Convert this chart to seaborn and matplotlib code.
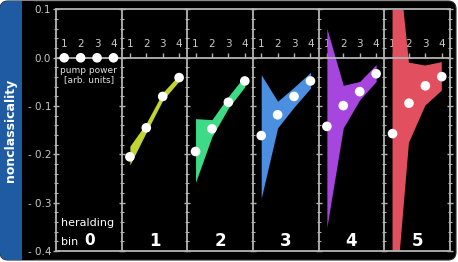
# Nonclassicality vs pump power for each heralding bin
import numpy as np
import pandas as pd
import matplotlib.pyplot as plt
import seaborn as sns
from matplotlib.patches import FancyBboxPatch, Rectangle
from matplotlib.ticker import FixedLocator, FixedFormatter

# pump power settings (x axis of every panel)
pump = [1, 2, 3, 4]
bin_names = ['0', '1', '2', '3', '4', '5']
band_colors = [None, '#c2d432', '#3ddb85', '#4a8fe0', '#a746df', '#e2505f']

# measured nonclassicality per heralding bin
nc_0 = [0.0, 0.0, 0.0, 0.0]
nc_1 = [-0.205, -0.145, -0.080, -0.041]
nc_2 = [-0.194, -0.147, -0.092, -0.048]
nc_3 = [-0.161, -0.118, -0.080, -0.048]
nc_4 = [-0.142, -0.099, -0.070, -0.033]
nc_5 = [-0.157, -0.094, -0.058, -0.039]

# uncertainty band (upper / lower edge)
up_1 = [-0.183, -0.135, -0.072, -0.035]
lo_1 = [-0.222, -0.154, -0.088, -0.048]
up_2 = [-0.126, -0.128, -0.080, -0.037]
lo_2 = [-0.258, -0.163, -0.104, -0.060]
up_3 = [-0.035, -0.090, -0.061, -0.030]
lo_3 = [-0.291, -0.145, -0.102, -0.063]
up_4 = [0.061, -0.057, -0.049, -0.014]
lo_4 = [-0.351, -0.145, -0.087, -0.049]
up_5 = [0.32, -0.010, -0.016, -0.009]
lo_5 = [-0.58, -0.176, -0.099, -0.068]

# y axis ticks
ytick_vals = [-0.4, -0.3, -0.2, -0.1, 0.0, 0.1]
ytick_labels = ['- 0.4', '- 0.3', '- 0.2', '- 0.1', '0.0', '0.1']
yminor_vals = [-0.38, -0.36, -0.34, -0.32, -0.28, -0.26, -0.24, -0.22,
               -0.18, -0.16, -0.14, -0.12, -0.08, -0.06, -0.04, -0.02,
               0.02, 0.04, 0.06, 0.08]

values = [nc_0, nc_1, nc_2, nc_3, nc_4, nc_5]
uppers = [None, up_1, up_2, up_3, up_4, up_5]
lowers = [None, lo_1, lo_2, lo_3, lo_4, lo_5]

gray = '#b4b4b4'
lw = 1.3

sns.set_style('dark')
plt.rcParams['font.family'] = ['DejaVu Sans']

fig, axes = plt.subplots(1, 6, sharey=True, figsize=(4.58, 2.62), dpi=100)
fig.patch.set_facecolor('white')
fig.subplots_adjust(left=56/458, right=450/458, bottom=11/262, top=1-9.5/262, wspace=0)

# black rounded card with blue label strip on the left
tr = fig.dpi_scale_trans
fig.add_artist(FancyBboxPatch((0.0, 0.02), 4.56, 2.59, boxstyle='round,pad=0,rounding_size=0.08',
                              fc='black', ec='#2a2a2a', lw=0.8, transform=tr, zorder=-2))
fig.add_artist(FancyBboxPatch((0.0, 0.02), 0.3, 2.59, boxstyle='round,pad=0,rounding_size=0.08',
                              fc='#1f5ba3', ec='none', transform=tr, zorder=-1.5))
fig.add_artist(Rectangle((0.22, 0.02), 0.12, 2.59, fc='black', ec='none', transform=tr, zorder=-1))
fig.text(11/458, 1-130/262, 'nonclassicality', rotation=90, ha='center', va='center',
         color='white', fontsize=9, fontweight='bold')

for i, ax in enumerate(axes):
    ax.set_facecolor('none')
    ax.grid(False)
    ax.set_xlim(0.5, 4.5)
    ax.set_ylim(-0.4, 0.1)

    if uppers[i] is not None:
        ax.fill_between(pump, lowers[i], uppers[i], color=band_colors[i], lw=0, zorder=2)

    df = pd.DataFrame({'pump': pump, 'nc': values[i]})
    sns.scatterplot(data=df, x='pump', y='nc', ax=ax, color='white', s=48,
                    edgecolor='none', zorder=5, clip_on=False, legend=False)

    # frame: top spine moved to zero acts as the pump power axis
    for s in ['left', 'bottom', 'top', 'right']:
        ax.spines[s].set_color(gray)
        ax.spines[s].set_linewidth(lw)
    ax.spines['top'].set_position(('data', 0))
    ax.spines['right'].set_visible(i == 5)
    ax.axhline(0.1, color=gray, lw=lw, clip_on=False, zorder=3)

    ax.xaxis.set_ticks_position('top')
    ax.set_xticks(pump)
    ax.set_xticklabels([str(p) for p in pump])
    ax.tick_params(axis='x', direction='out', length=3.5, width=1, color=gray,
                   labelcolor='#c8c8c8', labelsize=7.5, pad=2.5)

    ax.yaxis.set_major_locator(FixedLocator(ytick_vals))
    ax.yaxis.set_major_formatter(FixedFormatter(ytick_labels))
    ax.yaxis.set_minor_locator(FixedLocator(yminor_vals))
    ax.tick_params(axis='y', which='both', direction='inout', color=gray,
                   left=True, right=(i == 5), labelleft=(i == 0))
    ax.tick_params(axis='y', which='major', length=5, width=1, labelcolor='#c8c8c8',
                   labelsize=7.5, pad=1)
    ax.tick_params(axis='y', which='minor', length=3, width=0.8)
    ax.set_xlabel('')
    ax.set_ylabel('')

    if i > 0:
        ax.text(2.5, -0.3905, bin_names[i], ha='center', va='baseline', color='white',
                fontsize=12, fontweight='bold')

# annotations in the first panel
a0 = axes[0]
a0.text(2.5, -0.016, 'pump power\n[arb. units]', ha='center', va='top', color='#e0e0e0',
        fontsize=6.5, linespacing=1.05, zorder=6)
a0.text(0.81, -0.343, 'heralding', ha='left', va='center', color='white', fontsize=8)
a0.text(0.81, -0.388, 'bin', ha='left', va='baseline', color='white', fontsize=8)
a0.text(2.2, -0.388, bin_names[0], ha='left', va='baseline', color='white',
        fontsize=11, fontweight='bold')

fig.savefig('out.png', dpi=100, facecolor=fig.get_facecolor())
